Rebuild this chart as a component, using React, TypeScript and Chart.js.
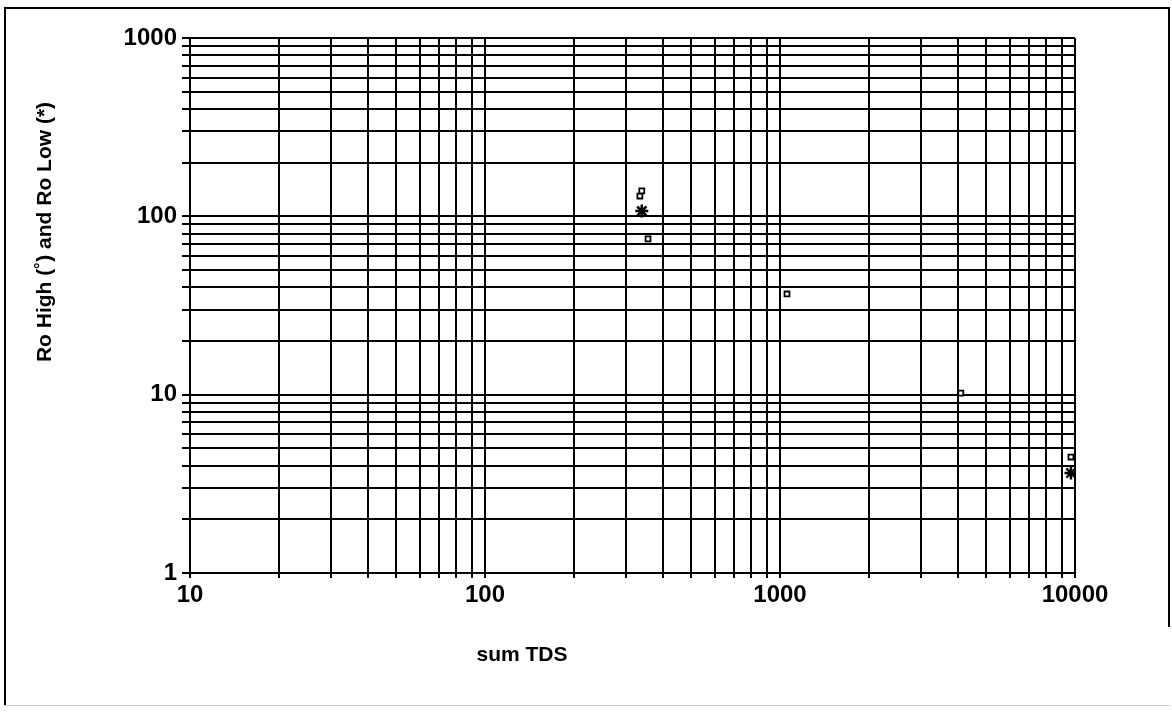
import React, { useEffect, useRef } from "react";
import { Chart, registerables } from "chart.js";

Chart.register(...registerables);

// Data
const highX = [335, 340, 357, 1056, 4100, 9690];
const highY = [130, 139, 74.7, 36.7, 10.2, 4.47];
const lowX = [340, 9690];
const lowY = [107, 3.64];

// Axis ticks / grid
const xDecades = [10, 100, 1000];
const yDecades = [1, 10, 100];
const multipliers = [1, 2, 3, 4, 5, 6, 7, 8, 9];
const xMajorLabels = [10, 100, 1000, 10000];
const yMajorLabels = [1, 10, 100, 1000];

const xTitle = "sum TDS";
const yTitle = "Ro High (\u02DA) and Ro Low (*)";

const xGrid = [...xDecades.flatMap((d) => multipliers.map((m) => d * m)), 10000];
const yGrid = [...yDecades.flatMap((d) => multipliers.map((m) => d * m)), 1000];

const FONT = "'Liberation Sans', Arial, sans-serif";

export default function App() {
  const ref = useRef<HTMLCanvasElement | null>(null);

  useEffect(() => {
    if (!ref.current) return;
    const titlesPlugin = {
      id: "titlesPlugin",
      afterDraw(chart: any) {
        const ctx = chart.ctx;
        ctx.save();
        ctx.font = `bold 21px ${FONT}`;
        ctx.fillStyle = "#000";
        ctx.textAlign = "center";
        ctx.textBaseline = "middle";
        ctx.fillText(xTitle, 522, 655);
        ctx.translate(45, 232);
        ctx.rotate(-Math.PI / 2);
        ctx.fillText(yTitle, 0, 0);
        ctx.restore();
      },
    };
    const chart = new Chart(ref.current, {
      type: "scatter",
      data: {
        datasets: [
          {
            label: "Ro High",
            data: highX.map((x, i) => ({ x, y: highY[i] })),
            pointStyle: "rect",
            pointRadius: 3.5,
            backgroundColor: "#fff",
            borderColor: "#000",
            borderWidth: 1.8,
          },
          {
            label: "Ro Low",
            data: lowX.map((x, i) => ({ x, y: lowY[i] })),
            pointStyle: "star",
            pointRadius: 6.5,
            backgroundColor: "#000",
            borderColor: "#000",
            borderWidth: 2.5,
          },
        ],
      },
      options: {
        animation: false,
        responsive: false,
        layout: { padding: { left: 30, top: 38, right: 97, bottom: 42 } },
        plugins: {
          legend: { display: false },
          tooltip: { enabled: false },
          title: { display: false },
        },
        scales: {
          x: {
            type: "logarithmic",
            min: 10,
            max: 10000,
            afterBuildTicks: (scale: any) => {
              scale.ticks = xGrid.map((v) => ({ value: v }));
            },
            afterFit: (scale: any) => {
              scale.height = 98;
            },
            grid: {
              color: "#000",
              lineWidth: 2,
              tickLength: 5,
              drawTicks: true,
            },
            border: { color: "#000", width: 2 },
            ticks: {
              autoSkip: false,
              maxRotation: 0,
              padding: 3,
              color: "#000",
              font: { family: FONT, size: 24, weight: "bold" },
              callback: (v: any) => (xMajorLabels.includes(Number(v)) ? String(v) : ""),
            },
            title: { display: false },
          },
          y: {
            type: "logarithmic",
            min: 1,
            max: 1000,
            afterBuildTicks: (scale: any) => {
              scale.ticks = yGrid.map((v) => ({ value: v }));
            },
            afterFit: (scale: any) => {
              scale.width = 160;
            },
            grid: {
              color: "#000",
              lineWidth: 2,
              tickLength: 8,
              drawTicks: true,
            },
            border: { color: "#000", width: 2 },
            ticks: {
              autoSkip: false,
              padding: 5,
              color: "#000",
              font: { family: FONT, size: 24, weight: "bold" },
              callback: (v: any) => (yMajorLabels.includes(Number(v)) ? String(v) : ""),
            },
            title: { display: false },
          },
        },
      },
      plugins: [titlesPlugin],
    });
    return () => chart.destroy();
  }, []);

  return (
    <div style={{ position: "absolute", left: 0, top: 0, width: 1172, height: 713, background: "#fff" }}>
      <canvas ref={ref} width={1172} height={713} style={{ position: "absolute", left: 0, top: 0 }} />
      <div style={{ position: "absolute", left: 4, top: 7, width: 1166, height: 2, background: "#000" }} />
      <div style={{ position: "absolute", left: 4, top: 7, width: 2, height: 699, background: "#000" }} />
      <div style={{ position: "absolute", left: 1168, top: 7, width: 2, height: 620, background: "#000" }} />
      <div style={{ position: "absolute", left: 4, top: 705, width: 1166, height: 1, background: "#ccc" }} />
    </div>
  );
}
